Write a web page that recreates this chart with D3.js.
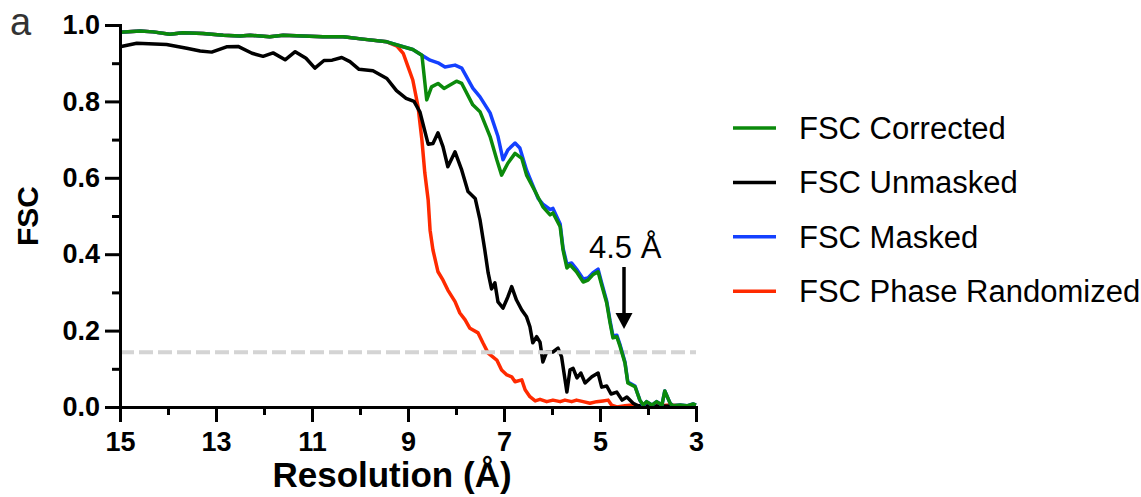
<!DOCTYPE html>
<html>
<head>
<meta charset="utf-8">
<script src="https://d3js.org/d3.v7.min.js"></script>
<style>
  body { margin: 0; background: #fff; }
  text { font-family: "Liberation Sans", Arial, Helvetica, sans-serif; }
  .axis path, .axis line { stroke: #000; stroke-width: 3; }
  .axis text { font-size: 27px; font-weight: bold; fill: #000; }
</style>
</head>
<body>
<div id="chart"></div>
<script>
// FSC curves, [resolution (Å), FSC]
var fscCorrected = [[15.00,0.981],[14.58,0.984],[14.31,0.982],[13.96,0.976],[13.69,0.980],[13.27,0.978],[12.85,0.973],[12.50,0.971],[12.29,0.973],[11.88,0.969],[11.60,0.973],[11.19,0.971],[10.77,0.969],[10.35,0.969],[9.94,0.963],[9.44,0.956],[9.10,0.943],[8.90,0.936],[8.71,0.921],
  [8.61,0.804],[8.51,0.838],[8.375,0.847],[8.25,0.834],[8.125,0.843],[7.99,0.853],[7.88,0.847],[7.65,0.791],[7.50,0.773],[7.29,0.708],[7.15,0.647],[7.05,0.607],[6.92,0.638],[6.77,0.664],[6.63,0.651],[6.53,0.607],[6.35,0.564],[6.19,0.524],[6.04,0.503],[5.98,0.508],[5.83,0.472],[5.77,0.411],[5.69,0.364],[5.625,0.372],[5.49,0.354],[5.35,0.327],[5.25,0.332],[5.15,0.346],[5.04,0.354],[4.965,0.319],[4.86,0.272],[4.79,0.220],[4.73,0.181],[4.65,0.184],[4.58,0.158],[4.48,0.115],[4.42,0.063],[4.27,0.053],[4.17,0.018],[4.10,0.005],[4.03,0.014],[3.92,0.005],[3.82,0.014],[3.71,0.005],[3.65,0.042],[3.54,0.010],[3.48,0.003],[3.33,0.005],[3.19,0.003],[3.06,0.008],[3.00,0.005]];

var fscUnmasked = [[15.00,0.943],[14.65,0.952],[14.03,0.949],[13.61,0.939],[13.33,0.932],[13.09,0.929],[12.78,0.943],[12.54,0.944],[12.25,0.926],[12.02,0.918],[11.81,0.927],[11.56,0.909],[11.35,0.930],[11.125,0.913],[10.94,0.887],[10.75,0.907],[10.58,0.908],[10.38,0.915],[10.21,0.904],[10.02,0.884],[9.73,0.880],[9.44,0.860],[9.24,0.828],[9.04,0.808],[8.875,0.800],[8.75,0.772],
  [8.58,0.688],[8.48,0.690],[8.375,0.718],[8.27,0.681],[8.17,0.629],[8.02,0.668],[7.88,0.620],[7.75,0.564],[7.60,0.546],[7.50,0.490],[7.40,0.411],[7.33,0.351],[7.26,0.309],[7.19,0.325],[7.125,0.275],[7.02,0.259],[6.92,0.288],[6.84,0.315],[6.74,0.280],[6.63,0.254],[6.53,0.236],[6.46,0.210],[6.40,0.168],[6.32,0.184],[6.25,0.170],[6.19,0.118],[6.11,0.144],[5.98,0.144],[5.875,0.154],[5.80,0.131],[5.69,0.039],[5.625,0.097],[5.56,0.101],[5.48,0.076],[5.40,0.089],[5.31,0.063],[5.17,0.079],[5.04,0.089],[4.965,0.052],[4.86,0.055],[4.77,0.034],[4.65,0.039],[4.54,0.018],[4.44,0.026],[4.31,0.010],[4.21,0.003],[4.06,0.003],[3.50,0.002],[3.00,0.002]];

var fscMasked = [[15.00,0.981],[14.58,0.984],[14.31,0.982],[13.96,0.976],[13.69,0.980],[13.27,0.978],[12.85,0.973],[12.50,0.971],[12.29,0.973],[11.88,0.969],[11.60,0.973],[11.19,0.971],[10.77,0.969],[10.35,0.969],[9.94,0.963],[9.44,0.956],[9.10,0.943],[8.90,0.936],[8.71,0.921],
  [8.54,0.908],[8.375,0.901],[8.23,0.890],[8.02,0.895],[7.88,0.887],[7.65,0.835],[7.50,0.812],[7.29,0.770],[7.125,0.708],[7.02,0.647],[6.92,0.673],[6.77,0.691],[6.67,0.678],[6.53,0.620],[6.29,0.546],[6.19,0.531],[6.04,0.517],[5.98,0.520],[5.83,0.479],[5.77,0.416],[5.69,0.374],[5.59,0.377],[5.49,0.361],[5.35,0.335],[5.25,0.338],[5.15,0.351],[5.04,0.361],[4.965,0.325],[4.86,0.277],[4.79,0.225],[4.73,0.186],[4.65,0.188],[4.58,0.162],[4.48,0.118],[4.42,0.065],[4.27,0.055],[4.17,0.018],[4.10,0.003],[4.03,0.014],[3.92,0.005],[3.82,0.014],[3.71,0.005],[3.65,0.042],[3.54,0.010],[3.48,0.003],[3.33,0.005],[3.19,0.003],[3.06,0.008],[3.00,0.005]];

var fscPhaseRandomized = [[15.00,0.981],[14.58,0.984],[14.31,0.982],[13.96,0.976],[13.69,0.980],[13.27,0.978],[12.85,0.973],[12.50,0.971],[12.29,0.973],[11.88,0.969],[11.60,0.973],[11.19,0.971],[10.77,0.969],[10.35,0.969],[9.94,0.963],[9.44,0.956],[9.23,0.945],[9.10,0.926],[9.00,0.891],[8.90,0.856],[8.79,0.786],[8.71,0.699],[8.65,0.613],[8.58,0.542],[8.54,0.463],[8.48,0.411],[8.375,0.354],[8.27,0.332],[8.17,0.306],[8.02,0.276],[7.92,0.246],[7.81,0.228],[7.71,0.206],[7.54,0.194],[7.44,0.168],[7.33,0.141],[7.15,0.123],[7.05,0.097],[6.94,0.084],[6.84,0.079],[6.77,0.066],[6.63,0.071],[6.56,0.045],[6.46,0.027],[6.35,0.016],[6.25,0.020],[6.11,0.014],[5.98,0.018],[5.83,0.014],[5.73,0.018],[5.59,0.014],[5.49,0.018],[5.35,0.014],[5.21,0.010],[5.07,0.014],[4.94,0.016],[4.83,0.018],[4.76,0.005],[4.65,0.000],[4.48,0.003],[4.33,0.005],[4.17,0.003],[3.96,0.005],[3.75,0.003],[3.54,0.005],[3.33,0.003],[3.00,0.003]];

var legendLabels = ["FSC Corrected", "FSC Unmasked", "FSC Masked", "FSC Phase Randomized"];
var xMajor = [15, 13, 11, 9, 7, 5, 3],
    xMinor = [14, 12, 10, 8, 6, 4],
    yMajor = [0, 0.2, 0.4, 0.6, 0.8, 1.0],
    yMinor = [0.1, 0.3, 0.5, 0.7, 0.9];
var threshold = 0.143;

var colors = { corrected: "#0b8a0b", unmasked: "#000000", masked: "#1440ff", phase: "#ff2a00" };

var width = 1141, height = 497;
var x = d3.scaleLinear().domain([15, 3]).range([120, 696]);
var y = d3.scaleLinear().domain([0, 1]).range([407, 25]);

var svg = d3.select("#chart").append("svg")
    .attr("width", width)
    .attr("height", height);

var line = d3.line()
    .x(function(d) { return x(d[0]); })
    .y(function(d) { return y(d[1]); });

function drawCurve(data, color) {
  svg.append("path")
    .datum(data)
    .attr("d", line)
    .attr("fill", "none")
    .attr("stroke", color)
    .attr("stroke-width", 3.5)
    .attr("stroke-linejoin", "round");
}

drawCurve(fscPhaseRandomized, colors.phase);
drawCurve(fscUnmasked, colors.unmasked);

// 0.143 threshold
svg.append("line")
    .attr("x1", x(15)).attr("x2", x(3))
    .attr("y1", y(threshold)).attr("y2", y(threshold))
    .attr("stroke", "#d4d4d4")
    .attr("stroke-width", 4)
    .attr("stroke-dasharray", "14,5");

drawCurve(fscMasked, colors.masked);
drawCurve(fscCorrected, colors.corrected);

// axes
svg.append("g").attr("class", "axis")
    .attr("transform", "translate(0," + y(0) + ")")
    .call(d3.axisBottom(x).tickValues(xMinor).tickSize(8).tickSizeOuter(0).tickFormat(""));
svg.append("g").attr("class", "axis")
    .attr("transform", "translate(0," + y(0) + ")")
    .call(d3.axisBottom(x).tickValues(xMajor).tickSize(15).tickSizeOuter(0).tickPadding(10).tickFormat(d3.format("d")));
svg.append("g").attr("class", "axis")
    .attr("transform", "translate(" + x(15) + ",0)")
    .call(d3.axisLeft(y).tickValues(yMinor).tickSize(8).tickSizeOuter(0).tickFormat(""));
svg.append("g").attr("class", "axis")
    .attr("transform", "translate(" + x(15) + ",0)")
    .call(d3.axisLeft(y).tickValues(yMajor).tickSize(15).tickSizeOuter(0).tickPadding(5).tickFormat(d3.format(".1f")));
svg.selectAll(".axis .domain").attr("stroke-linecap", "square");

// titles
svg.append("text")
    .attr("x", 392).attr("y", 487)
    .attr("text-anchor", "middle")
    .style("font-size", "35px").style("font-weight", "bold")
    .text("Resolution (Å)");
svg.append("text")
    .attr("transform", "translate(38," + (y(0) + y(1)) / 2 + ") rotate(-90)")
    .attr("text-anchor", "middle")
    .style("font-size", "30px").style("font-weight", "bold")
    .text("FSC");
svg.append("text")
    .attr("x", 10).attr("y", 35)
    .style("font-size", "38px").style("fill", "#333")
    .text("a");

// 4.5 Å annotation
svg.append("text")
    .attr("x", 589).attr("y", 258)
    .style("font-size", "31px")
    .text("4.5 Å");
svg.append("line")
    .attr("x1", 624).attr("x2", 624)
    .attr("y1", 267).attr("y2", 316)
    .attr("stroke", "#000").attr("stroke-width", 3.5);
svg.append("path")
    .attr("d", "M615.5,313 L632.5,313 L624,329 Z")
    .attr("fill", "#000");

// legend
var legendColors = [colors.corrected, colors.unmasked, colors.masked, colors.phase];
var legend = svg.selectAll(".legend")
    .data(legendLabels)
    .enter().append("g")
    .attr("class", "legend")
    .attr("transform", function(d, i) { return "translate(733," + (128 + i * 54.4) + ")"; });
legend.append("line")
    .attr("x1", 0).attr("x2", 43)
    .attr("stroke", function(d, i) { return legendColors[i]; })
    .attr("stroke-width", 3.5);
legend.append("text")
    .attr("x", 66).attr("y", 11)
    .style("font-size", "31px")
    .text(function(d) { return d; });
</script>
</body>
</html>
